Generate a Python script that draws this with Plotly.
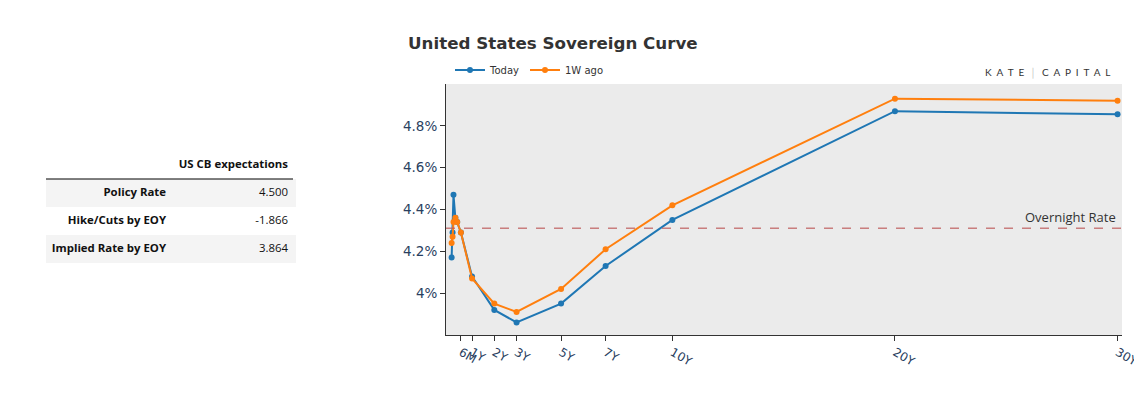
import plotly.graph_objects as go

# ---- data ----
tenor_years = [1/12, 1.5/12, 2/12, 3/12, 4/12, 0.5, 1, 2, 3, 5, 7, 10, 20, 30]
today = [4.17, 4.29, 4.47, 4.36, 4.34, 4.29, 4.08, 3.92, 3.86, 3.95, 4.13, 4.35, 4.87, 4.855]
week_ago = [4.24, 4.27, 4.34, 4.36, 4.34, 4.29, 4.07, 3.95, 3.91, 4.02, 4.21, 4.42, 4.93, 4.92]
tick_vals = [0.5, 1, 2, 3, 5, 7, 10, 20, 30]
tick_text = ["6M", "1Y", "2Y", "3Y", "5Y", "7Y", "10Y", "20Y", "30Y"]
y_tick_vals = [4, 4.2, 4.4, 4.6, 4.8]
y_tick_text = ["4%", "4.2%", "4.4%", "4.6%", "4.8%"]
overnight_rate = 4.31

table_labels = ["Policy Rate", "Hike/Cuts by EOY", "Implied Rate by EOY"]
table_values = ["4.500", "-1.866", "3.864"]
table_title = "US CB expectations"

# page body has an 8px margin: screen coords -> figure paper coords
W, H = 1142, 394
OFF = 8
def px(x):
    return (x - OFF) / W
def py(y):
    return (H - (y - OFF)) / H

def nb(s):
    return s.replace(" ", "\u00a0")

fig = go.Figure()

fig.add_trace(go.Table(
    domain=dict(x=[px(46), px(296)], y=[py(264), py(151)]),
    columnwidth=[128, 122],
    header=dict(values=["", nb(table_title)],
                align="right", fill_color="white",
                line=dict(width=0, color="white"),
                font=dict(family="Open Sans", size=11.4, color="#111", weight=700),
                height=28),
    cells=dict(values=[[nb(s) for s in table_labels], table_values],
               align="right",
               fill_color=[["#f4f4f4", "white", "#f4f4f4"]] * 2,
               line=dict(width=0, color="white"),
               font=dict(family="Open Sans", size=11.4, color="#111", weight=[700, 400]),
               height=28),
))

fig.add_trace(go.Scatter(x=tenor_years, y=today, name="Today", mode="lines+markers",
                         line=dict(color="#1f77b4", width=2), marker=dict(size=6)))
fig.add_trace(go.Scatter(x=tenor_years, y=week_ago, name="1W ago", mode="lines+markers",
                         line=dict(color="#ff7f0e", width=2), marker=dict(size=6)))

fig.add_hline(y=overnight_rate, line=dict(color="rgba(190,90,90,0.75)", width=1.5, dash="dash"),
              annotation_text="Overnight Rate", annotation_position="top right",
              annotation_xshift=-4,
              annotation_font=dict(family="Open Sans", size=13, color="#333"))

fig.add_shape(type="line", xref="paper", yref="paper", x0=px(46), x1=px(293),
              y0=py(179), y1=py(179), line=dict(color="black", width=1))

sp = "&nbsp;&nbsp;"
logo = sp.join("KATE") + sp + "<span style='color:#bbb'>│</span>" + sp + sp.join("CAPITAL")
fig.add_annotation(xref="paper", yref="paper", x=px(1113), y=py(72), xanchor="right",
                   yanchor="middle", showarrow=False, text=logo,
                   font=dict(family="Lato", size=10, color="#333"))

fig.update_layout(
    width=W, height=H,
    margin=dict(l=0, r=0, t=0, b=0, autoexpand=False),
    paper_bgcolor="white", plot_bgcolor="#ebebeb",
    font=dict(family="DejaVu Sans", color="#444"),
    title=dict(text="<b>United States Sovereign Curve</b>", x=px(408), xanchor="left",
               y=py(43), yanchor="middle", font=dict(family="DejaVu Sans", size=16.7, color="#333")),
    legend=dict(orientation="h", x=px(450), y=py(70), xanchor="left", yanchor="middle",
                font=dict(family="DejaVu Sans", size=10, color="#333"), bgcolor="rgba(0,0,0,0)"),
    xaxis=dict(domain=[px(446), px(1122)], range=[-0.17, 30.2], tickvals=tick_vals,
               ticktext=tick_text, tickangle=30, showgrid=False, zeroline=False, automargin=False,
               showline=True, linecolor="#333", ticks="outside", ticklen=5, tickcolor="#333",
               tickfont=dict(size=12, color="#2a3f5f")),
    yaxis=dict(domain=[py(335), py(84)], range=[3.8, 5.0], tickvals=y_tick_vals,
               ticktext=y_tick_text, showgrid=False, zeroline=False, showline=True, automargin=False,
               linecolor="#333", ticks="outside", ticklen=5, tickcolor="#333",
               tickfont=dict(size=13.5, color="#2a3f5f")),
)

fig.write_html("out.html")
